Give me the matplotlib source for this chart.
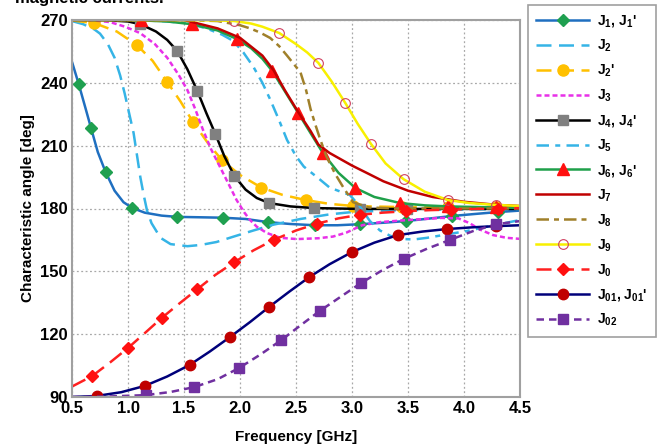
import matplotlib
matplotlib.use("Agg")
import matplotlib.pyplot as plt

plt.rcParams['font.family'] = ['Liberation Sans', 'DejaVu Sans']
plt.rcParams['font.weight'] = 'bold'
plt.rcParams['mathtext.fontset'] = 'custom'
plt.rcParams['mathtext.bf'] = 'Liberation Sans:bold'
plt.rcParams['mathtext.rm'] = 'Liberation Sans:bold'
plt.rcParams['mathtext.default'] = 'bf'

# ---- data (frequency in GHz, angle in deg) ----
j1_f = [0.5, 0.56, 0.62, 0.67, 0.73, 0.8, 0.88, 0.96, 1.04, 1.15, 1.3, 1.44, 1.65, 1.85,
        2.05, 2.25, 2.45, 2.67, 2.87, 3.07, 3.28, 3.48, 3.69, 3.89, 4.1, 4.3, 4.5]
j1_a = [250, 239.4, 228, 218.4, 207, 197.4, 188.5, 183, 180.2, 178, 176.6, 176, 175.8, 175.6,
        175, 173.5, 172.6, 172, 172, 172.5, 173.2, 174, 175.2, 176.4, 177.4, 178.3, 179]
j1_m = [1, 3, 5, 8, 11, 13, 15, 17, 19, 21, 23, 25]

j2_f = [0.5, 0.6, 0.7, 0.75, 0.82, 0.88, 0.93, 0.97, 1.01, 1.05, 1.08, 1.11, 1.14, 1.17, 1.21,
        1.29, 1.38, 1.53, 1.65, 1.79, 1.95, 2.12, 2.3, 2.54, 2.8, 3.0, 3.3, 3.7, 4.1, 4.5]
j2_a = [269.5, 268, 265.5, 263.5, 258.5, 252, 243.5, 235, 225.5, 216, 205.5, 195, 186.5, 179, 173,
        166, 163, 162, 162.6, 164, 166.7, 169.5, 172.3, 175, 177.2, 178.3, 179, 179.4, 179.6, 179.7]

j2p_f = [0.5, 0.7, 0.9, 1.08, 1.22, 1.35, 1.47, 1.58, 1.71, 1.84, 2.0, 2.19, 2.38, 2.59, 2.8,
         3.01, 3.23, 3.45, 3.86, 4.29, 4.5]
j2p_a = [269.8, 268.5, 264.5, 258, 250.5, 240.4, 231, 221.3, 211.5, 203, 196, 190, 186.5, 184, 182.2,
         181.2, 180.9, 180.7, 180.6, 180.5, 180.5]
j2p_m = [1, 3, 5, 7, 9, 11, 13, 15, 17, 18, 19]

j3_f = [0.5, 0.7, 0.84, 0.98, 1.11, 1.24, 1.35, 1.45, 1.53, 1.6, 1.67, 1.74, 1.82, 1.9, 1.97,
        2.04, 2.09, 2.15, 2.24, 2.36, 2.51, 2.7, 2.83, 2.95, 3.09, 3.25, 3.5, 3.8, 3.95, 4.05,
        4.14, 4.26, 4.38, 4.5]
j3_a = [270, 269.8, 269, 266.7, 263.7, 258.5, 252, 244, 236.6, 227.5, 217.5, 208.5, 200, 191.5, 184,
        178, 174.5, 171.3, 168.3, 166, 165.4, 165.8, 166.6, 168.5, 172, 173.5, 174.5, 175.5, 175.3, 173,
        170, 167.3, 166, 165.5]

j4_f = [0.5, 0.8, 1.0, 1.11, 1.25, 1.35, 1.44, 1.53, 1.62, 1.7, 1.78, 1.86, 1.95, 2.05, 2.15,
        2.26, 2.45, 2.66, 3.07, 3.49, 4.0, 4.5]
j4_a = [270, 269.9, 269.3, 268, 264.5, 260.5, 255.2, 246.5, 236, 225.5, 215.6, 205, 195.5, 189, 185,
        182.6, 181, 180.2, 179.8, 179.8, 179.8, 179.8]
j4_m = [3, 6, 8, 10, 12, 15, 17, 18, 19]

j5_f = [0.5, 1.0, 1.3, 1.53, 1.7, 1.84, 1.94, 2.03, 2.12, 2.2, 2.27, 2.35, 2.42, 2.5, 2.57,
        2.71, 2.8, 2.9, 2.98, 3.07, 3.16, 3.25, 3.34, 3.43, 3.55, 3.67, 3.8, 4.03, 4.25, 4.5]
j5_a = [270, 270, 269.5, 268.5, 266, 263, 260, 254.5, 247.6, 240, 232, 222, 212.7, 205, 200,
        194, 190, 188, 186.5, 181, 174, 169.5, 167, 165.5, 165.2, 166, 167.2, 169.3, 171.8, 174.5]

j6_f = [0.5, 1.0, 1.12, 1.35, 1.57, 1.8, 1.97, 2.1, 2.2, 2.29, 2.4, 2.52, 2.63, 2.74, 2.88,
        3.03, 3.2, 3.43, 3.65, 3.86, 4.29, 4.5]
j6_a = [270, 270, 269.8, 269.3, 268, 265, 261, 256.5, 251.5, 245.5, 236, 225.6, 216, 206.5, 197,
        189.8, 185.5, 182.6, 181.5, 181, 180.5, 180.3]
j6_m = [2, 4, 6, 9, 11, 13, 15, 17, 19, 20]

j7_f = [0.5, 1.5, 1.8, 2.0, 2.2, 2.3, 2.4, 2.52, 2.63, 2.7, 2.8, 2.9, 3.0, 3.15, 3.28,
        3.5, 3.72, 4.0, 4.3, 4.5]
j7_a = [270, 270, 266, 261.5, 253, 246, 236.5, 226, 217, 210.5, 206.5, 203.5, 200.5, 196.5, 193,
        188.5, 185.5, 183.2, 181.7, 181.2]

j8_f = [0.5, 1.5, 1.8, 2.0, 2.09, 2.18, 2.27, 2.35, 2.42, 2.48, 2.54, 2.59, 2.63, 2.67, 2.71,
        2.77, 2.85, 2.92, 3.01, 3.15, 3.4, 4.0, 4.5]
j8_a = [270, 270, 269.5, 267.5, 266, 264, 261.4, 257.5, 253, 249, 245, 236.5, 227.5, 220.5, 214,
        205, 196.5, 190.3, 183, 180.5, 180, 180, 180]

j9_f = [0.5, 1.5, 1.8, 1.95, 2.1, 2.2, 2.35, 2.5, 2.6, 2.7, 2.82, 2.94, 3.05, 3.17, 3.3,
        3.46, 3.65, 3.86, 4.05, 4.29, 4.5]
j9_a = [270, 270, 269.8, 269.5, 268.3, 266.8, 263.8, 258.5, 254.5, 249.5, 240.5, 230.4, 220.5, 210.8, 201.5,
        194, 188, 184, 182.6, 181.7, 181.2]
j9_m = [3, 6, 9, 11, 13, 15, 17, 19]

j0_f = [0.5, 0.68, 0.84, 1.0, 1.15, 1.3, 1.46, 1.62, 1.78, 1.95, 2.12, 2.3, 2.5, 2.69, 2.88,
        3.07, 3.27, 3.48, 3.68, 3.88, 4.1, 4.3, 4.5]
j0_a = [95, 100, 106.5, 113.4, 120.5, 127.7, 134.7, 141.5, 148.3, 154.4, 160, 165, 169.5, 172.8, 175.3,
        177, 178, 178.7, 179.2, 179.5, 179.8, 180, 180.2]
j0_m = [1, 3, 5, 7, 9, 11, 13, 15, 17, 19, 21]

j01_f = [0.5, 0.72, 0.94, 1.15, 1.35, 1.55, 1.73, 1.91, 2.09, 2.26, 2.44, 2.62, 2.8, 3.0, 3.2,
         3.41, 3.63, 3.85, 4.07, 4.29, 4.5]
j01_a = [90, 90.5, 92.3, 95.3, 99.8, 105.3, 111.7, 118.6, 125.8, 133, 140.3, 147.3, 153.4, 159.2, 163.7,
         167.3, 169, 170.2, 171, 171.6, 172]
j01_m = [1, 3, 5, 7, 9, 11, 13, 15, 17, 19]

j02_f = [0.5, 0.8, 1.16, 1.38, 1.59, 1.8, 1.99, 2.18, 2.37, 2.54, 2.71, 2.9, 3.08, 3.27, 3.46,
         3.67, 3.875, 4.08, 4.29, 4.5]
j02_a = [90, 90.2, 90.9, 92.4, 94.7, 98.5, 103.8, 110.2, 117.2, 124.2, 131, 137.9, 144.4, 150.5, 155.9,
         160.8, 165, 169.2, 172.5, 174]
j02_m = [2, 4, 6, 8, 10, 12, 14, 16, 18]

xticks = [0.5, 1.0, 1.5, 2.0, 2.5, 3.0, 3.5, 4.0, 4.5]
yticks = [90, 120, 150, 180, 210, 240, 270]

fig = plt.figure(figsize=(6.58, 4.46), dpi=100)
ax = fig.add_axes([72/658, 1 - 397/446, (520 - 72)/658, (397 - 20)/446])

lw = 1.8
ax.plot(j1_f, j1_a, color='#1f6fc0', lw=lw, marker='D', ms=6.5, mfc='#1fa050', mec='#1fa050',
        markevery=j1_m, label="$J_1$, $J_1$'")
ax.plot(j2_f, j2_a, color='#35b4e6', lw=lw, dashes=(6, 3), label='$J_2$')
ax.plot(j2p_f, j2p_a, color='#ffc000', lw=lw, dashes=(6, 3), marker='o', ms=8, mfc='#ffc000',
        mec='#ffc000', markevery=j2p_m, label="$J_2$'")
ax.plot(j3_f, j3_a, color='#e830e8', lw=lw, dashes=(2, 1.2), label='$J_3$')
ax.plot(j4_f, j4_a, color='black', lw=lw, marker='s', ms=7.5, mfc='#808080', mec='#808080',
        markevery=j4_m, label="$J_4$, $J_4$'")
ax.plot(j5_f, j5_a, color='#35b4e6', lw=lw, dashes=(5, 2.5, 2, 2.5), label='$J_5$')
ax.plot(j6_f, j6_a, color='#1fa04a', lw=lw, marker='^', ms=9, mfc='#ff1010', mec='#ff1010',
        markevery=j6_m, label="$J_6$, $J_6$'")
ax.plot(j7_f, j7_a, color='#c00000', lw=lw, label='$J_7$')
ax.plot(j8_f, j8_a, color='#a0802a', lw=lw, dashes=(5, 2, 2, 2), label='$J_8$')
ax.plot(j9_f, j9_a, color='#f8f000', lw=lw, marker='o', ms=7, mfc='none', mec='#d04060',
        mew=0.8, markevery=j9_m, label='$J_9$')
ax.plot(j0_f, j0_a, color='#ff2020', lw=lw, dashes=(6, 3), marker='D', ms=6.5, mfc='#ff1010',
        mec='#ff1010', markevery=j0_m, label='$J_0$')
ax.plot(j01_f, j01_a, color='#00007a', lw=lw, marker='o', ms=7.5, mfc='#c00000', mec='#c00000',
        markevery=j01_m, label="$J_{01}$, $J_{01}$'")
ax.plot(j02_f, j02_a, color='#7030a0', lw=lw, dashes=(3, 2), marker='s', ms=7.5, mfc='#7030a0',
        mec='#7030a0', markevery=j02_m, label='$J_{02}$')

ax.set_xlim(0.5, 4.5)
ax.set_ylim(90, 270)
ax.set_xticks(xticks)
ax.set_xticklabels(['%.1f' % v for v in xticks])
ax.set_yticks(yticks)
ax.tick_params(labelsize=12, length=0, pad=3)
for lab in ax.get_xticklabels() + ax.get_yticklabels():
    lab.set_fontweight('bold')
ax.grid(True, color='#a8a8a8', ls=(0, (1.5, 2)), lw=0.9)
for s in ax.spines.values():
    s.set_color('#a0a0a0')
    s.set_linewidth(1.5)

ax.set_xlabel('Frequency [GHz]', fontsize=11, fontweight='bold', labelpad=10)
ax.set_ylabel('Characteristic angle [deg]', fontsize=11, fontweight='bold', labelpad=4)

leg = ax.legend(loc='upper left', bbox_to_anchor=(528/658, 1 - 5/446), bbox_transform=fig.transFigure,
                fancybox=False, edgecolor='#a0a0a0', framealpha=1, numpoints=1, fontsize=10,
                handlelength=3.8, handletextpad=0.6, labelspacing=0.62, borderpad=0.6, borderaxespad=0)
leg.get_frame().set_linewidth(1.2)

fig.text(15/658, 1 - 3.5/446, 'magnetic currents.', fontsize=12, fontweight='bold', va='baseline')

fig.savefig('out.png', dpi=100)
